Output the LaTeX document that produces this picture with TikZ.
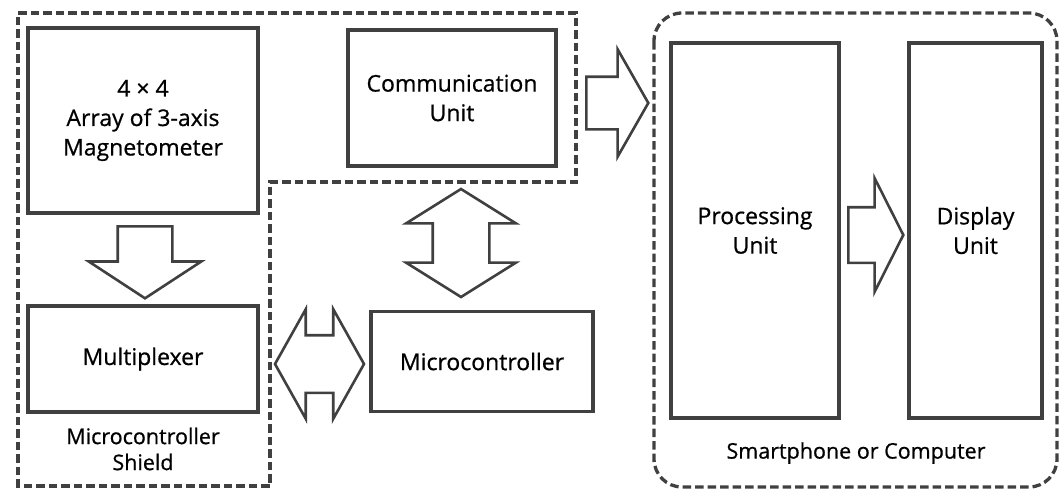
\documentclass[tikz,border=0pt]{standalone}
\usepackage{fontspec}
\setmainfont{Open Sans}[UprightFeatures={FakeBold=0.7}]
\usetikzlibrary{shapes.arrows}
\definecolor{edgegray}{HTML}{404040}
\begin{document}
\begin{tikzpicture}[x=1pt,y=-1pt,
  unitbox/.style={draw=edgegray,line width=3.8pt,rectangle,align=center,inner sep=0pt,font=\fontsize{23}{29.5}\selectfont},
  grouplabel/.style={align=center,font=\fontsize{21.5}{26}\selectfont},
  fatarrow/.style={draw=edgegray,line width=2.6pt,single arrow,inner xsep=0pt,anchor=tail},
  twinarrow/.style={draw=edgegray,line width=2.6pt,double arrow,inner xsep=0pt},
  groupline/.style={draw=edgegray,line width=3.3pt,dash pattern=on 8.5pt off 4pt}]
\useasboundingbox (0,0) rectangle (1064,488);
% microcontroller shield and the computer side
\draw[groupline] (18,13) -- (576,13) -- (576,182) -- (270,182) -- (270,486) -- (18,486) -- cycle;
\draw[groupline,rounded corners=28pt] (654,13) rectangle (1057,487);
% units
\node[unitbox,minimum width=230pt,minimum height=185pt] (mag) at (143,120.5) {4 × 4\\Array of 3-axis\\Magnetometer};
\node[unitbox,minimum width=208pt,minimum height=136pt] (comm) at (452,98) {Communication\\Unit};
\node[unitbox,minimum width=230pt,minimum height=106pt] (mux) at (143,359) {Multiplexer};
\node[unitbox,minimum width=222pt,minimum height=100pt] (mcu) at (482,361.5) {Microcontroller};
\node[unitbox,minimum width=168pt,minimum height=375pt] (proc) at (755,230.5) {Processing\\Unit};
\node[unitbox,minimum width=133pt,minimum height=375pt] (disp) at (975.5,230.5) {Display\\Unit};
\node[grouplabel] (shield) at (143,449) {Microcontroller\\Shield};
\node[grouplabel] (pc) at (856,453) {Smartphone or Computer};
% block arrows
\node[fatarrow,rotate=-90,minimum height=72pt,inner ysep=26pt,single arrow head extend=29pt,single arrow tip angle=113.6] (magmux) at (145,225) {};
\node[fatarrow,minimum height=62pt,inner ysep=25pt,single arrow head extend=27.5pt,single arrow tip angle=120.5] (commpc) at (585,103) {};
\node[fatarrow,minimum height=55pt,inner ysep=26.5pt,single arrow head extend=29pt,single arrow tip angle=126.4] (procdisp) at (847,235) {};
\node[twinarrow,rotate=90,minimum height=108pt,inner ysep=27pt,double arrow head extend=26.5pt,double arrow tip angle=115.9] (mcucomm) at (461,243) {};
\node[twinarrow,minimum height=89pt,inner ysep=27.5pt,double arrow head extend=26pt,double arrow tip angle=121.4] (muxmcu) at (319.5,364) {};
\end{tikzpicture}
\end{document}
